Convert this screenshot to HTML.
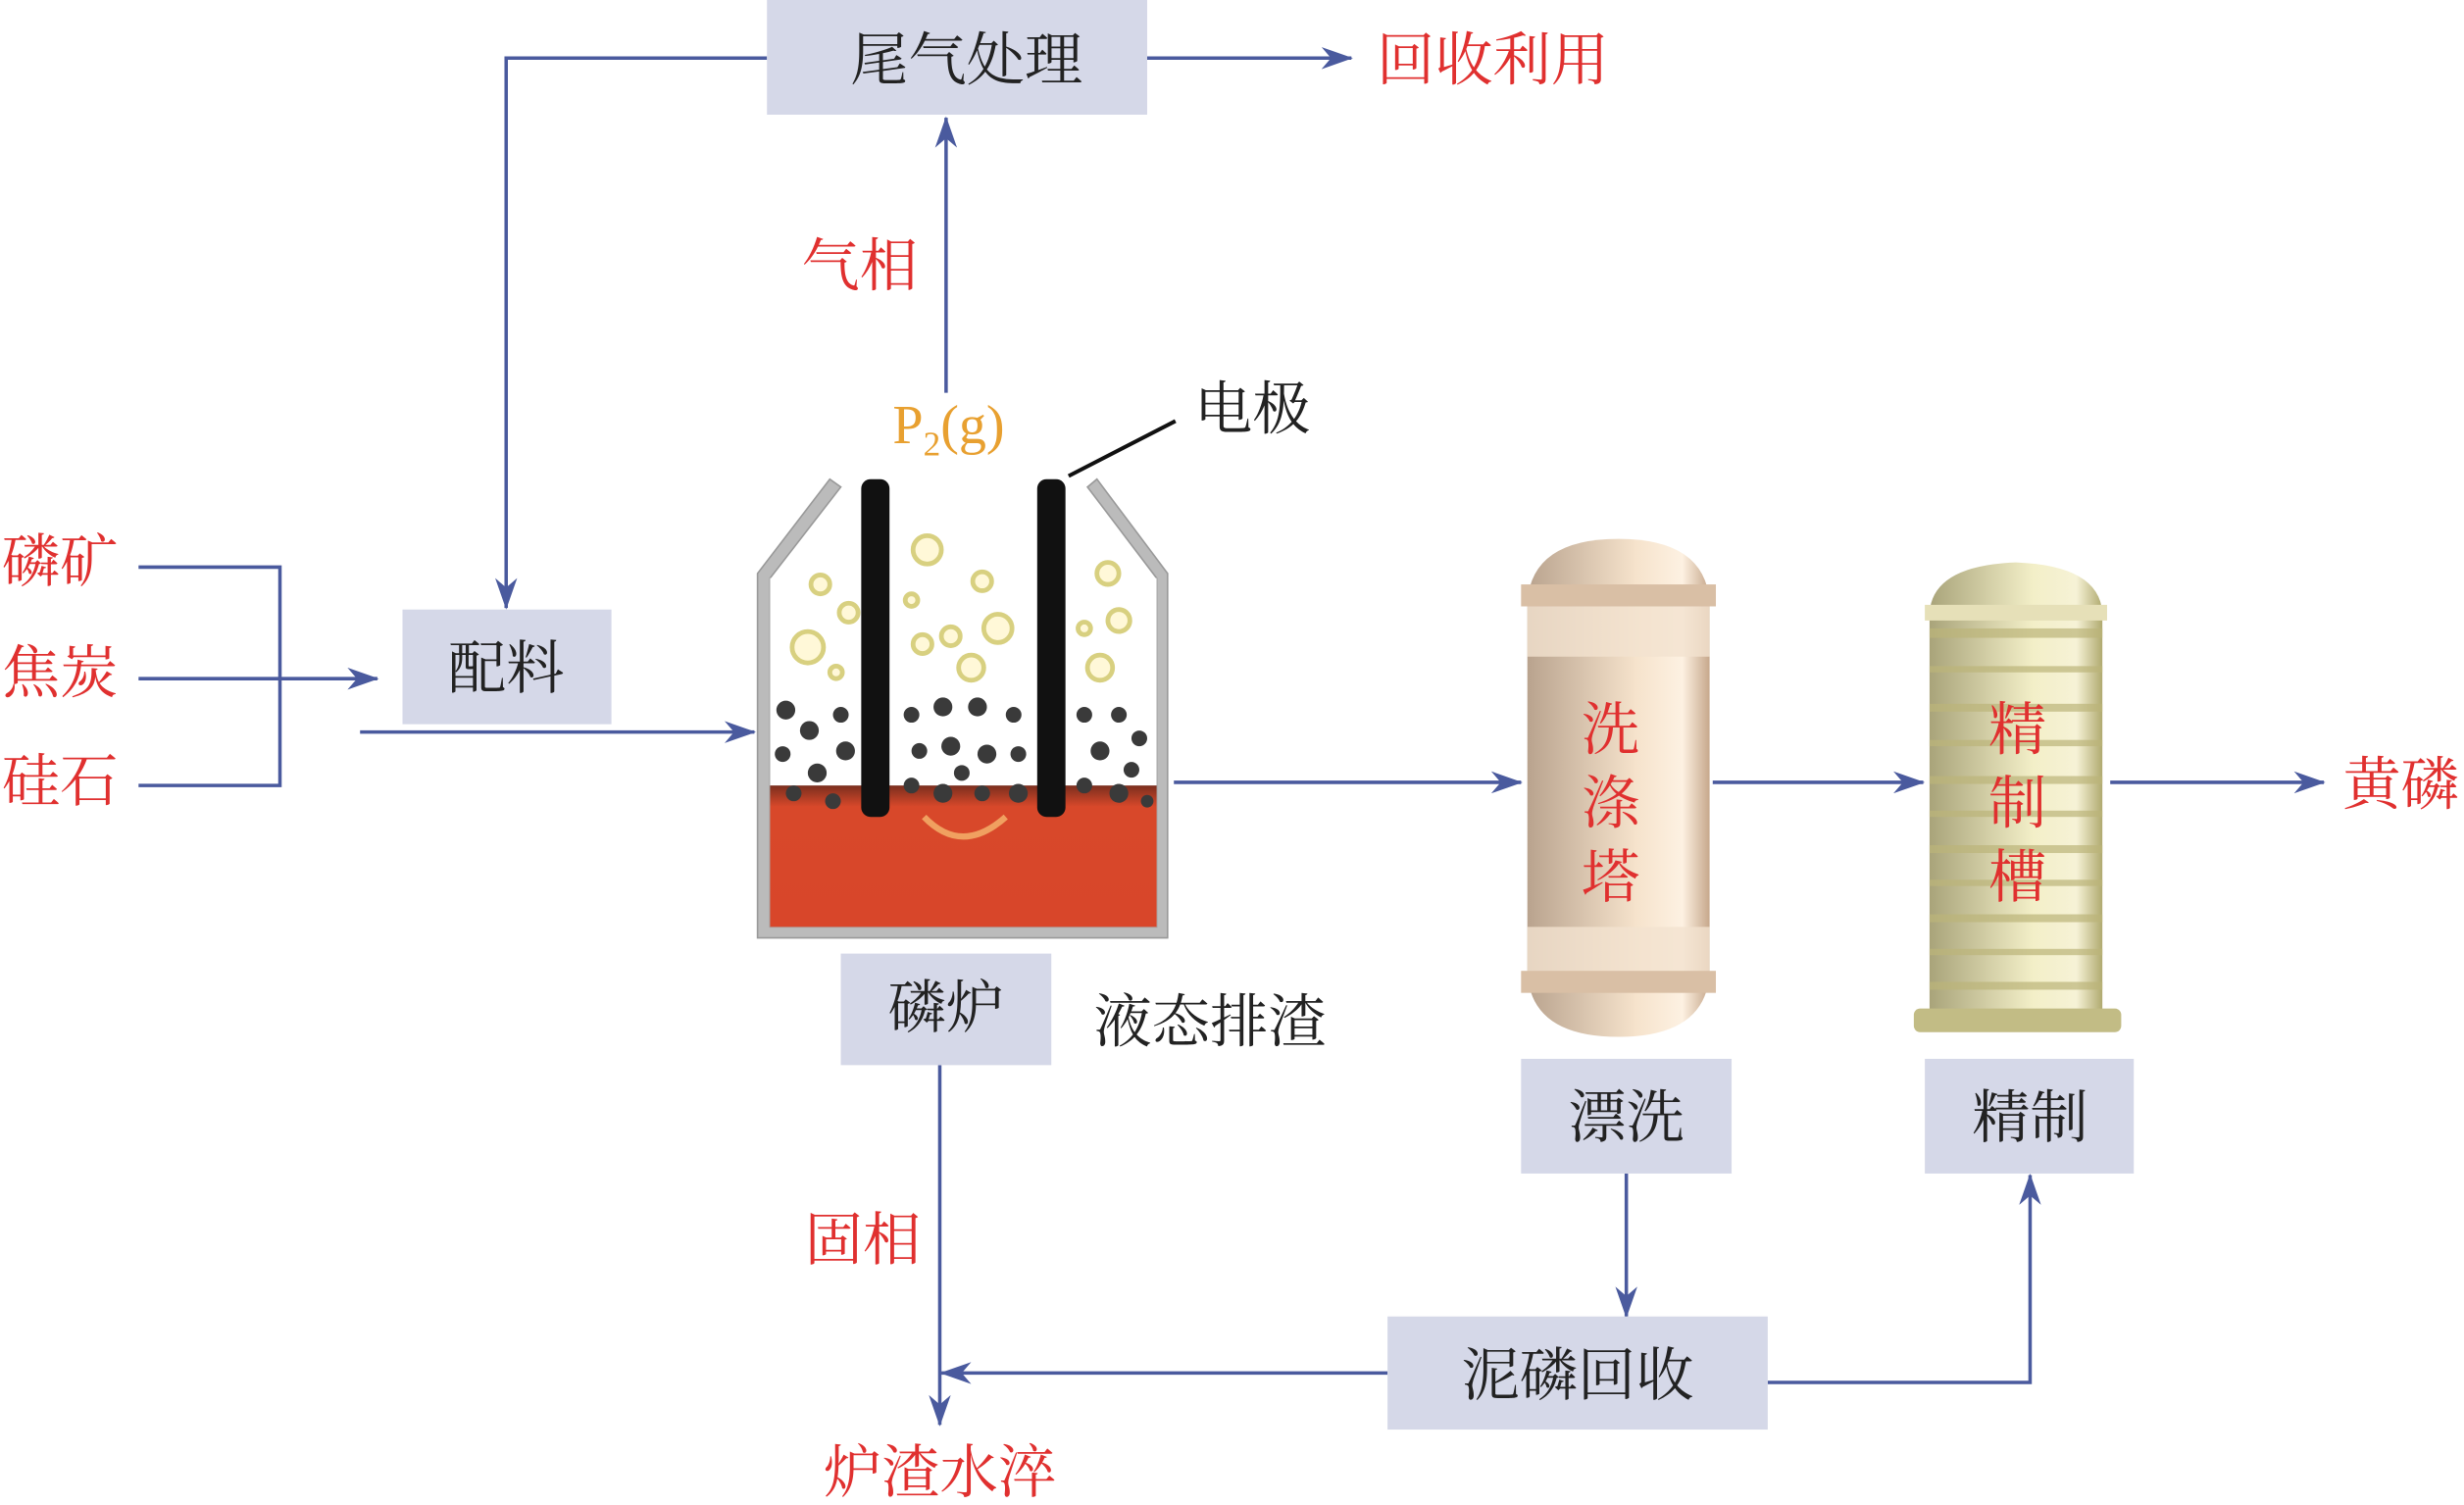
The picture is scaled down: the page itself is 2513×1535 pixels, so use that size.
<!DOCTYPE html>
<html><head><meta charset="utf-8"><style>
html,body{margin:0;padding:0;background:#fff;}
svg{display:block;}
text{font-family:"Liberation Serif","Noto Serif CJK SC",serif;}
</style></head><body>
<svg width="2513" height="1535" viewBox="0 0 1568 958" xmlns="http://www.w3.org/2000/svg">
<defs>
<marker id="a" markerWidth="20" markerHeight="14" refX="19" refY="7" orient="auto" markerUnits="userSpaceOnUse"><path d="M0,0 L20,7 L0,14 L6,7 Z" fill="#4a5a9e"/></marker>
<linearGradient id="tw" x1="0" x2="1"><stop offset="0" stop-color="#b9a38e"/><stop offset="0.6" stop-color="#f6e3cc"/><stop offset="0.85" stop-color="#fdf1e2"/><stop offset="1" stop-color="#c7a88c"/></linearGradient>
<linearGradient id="tk" x1="0" x2="1"><stop offset="0" stop-color="#a9a47a"/><stop offset="0.6" stop-color="#f3efc8"/><stop offset="0.85" stop-color="#f6f2d6"/><stop offset="1" stop-color="#b0aa70"/></linearGradient>
<linearGradient id="lq" x1="0" y1="0" x2="0" y2="1"><stop offset="0" stop-color="#7a2e1e"/><stop offset="0.15" stop-color="#d8482a"/><stop offset="1" stop-color="#d8462a"/></linearGradient>
</defs>
<g stroke="#4a5a9e" stroke-width="2.2" fill="none">
<line x1="730" y1="37" x2="860" y2="37" marker-end="url(#a)"/>
<polyline points="488,37 322,37 322,387" marker-end="url(#a)"/>
<polyline points="88,361 178,361 178,500 88,500"/>
<line x1="88" y1="432" x2="240" y2="432" marker-end="url(#a)"/>
<line x1="229" y1="466" x2="480" y2="466" marker-end="url(#a)"/>
<line x1="602" y1="250" x2="602" y2="75" marker-end="url(#a)"/>
<line x1="747" y1="498" x2="968" y2="498" marker-end="url(#a)"/>
<line x1="1090" y1="498" x2="1224" y2="498" marker-end="url(#a)"/>
<line x1="1343" y1="498" x2="1479" y2="498" marker-end="url(#a)"/>
<line x1="598" y1="678" x2="598" y2="907" marker-end="url(#a)"/>
<line x1="1035" y1="747" x2="1035" y2="838" marker-end="url(#a)"/>
<line x1="883" y1="874" x2="599" y2="874" marker-end="url(#a)"/>
<polyline points="1125,880 1292,880 1292,748" marker-end="url(#a)"/>
</g>
<g fill="#d5d8e8">
<rect x="488" y="0" width="242" height="73"/>
<rect x="256" y="388" width="133" height="73"/>
<rect x="535" y="607" width="134" height="71"/>
<rect x="968" y="674" width="134" height="73"/>
<rect x="1225" y="674" width="133" height="73"/>
<rect x="883" y="838" width="242" height="72"/>
</g>
<g font-size="37" text-anchor="middle" fill="#222">
<text x="615" y="51">尾气处理</text>
<text x="322" y="438">配料</text>
<text x="602" y="654">磷炉</text>
<text x="1035" y="724">漂洗</text>
<text x="1292" y="724">精制</text>
<text x="1004" y="888">泥磷回收</text>
<text x="770" y="663">液态排渣</text>
<text x="797" y="273">电极</text>
</g>
<g font-size="37" text-anchor="middle" fill="#e0302f">
<text x="950" y="51">回收利用</text>
<text x="547" y="182">气相</text>
<text x="38" y="370">磷矿</text>
<text x="38" y="441">焦炭</text>
<text x="38" y="510">硅石</text>
<text x="1528" y="512">黄磷</text>
<text x="549" y="802">固相</text>
<text x="598" y="950">炉渣水淬</text>
</g>
<text x="568" y="282" font-size="35" fill="#e8a030">P<tspan font-size="22" dy="8">2</tspan><tspan dy="-8">(g)</tspan></text>
<line x1="680" y1="303" x2="748" y2="268" stroke="#111" stroke-width="2.5"/>
<!-- furnace -->
<polygon points="482,597 482,365 528,305 535,310 490,368 490,590 736,590 736,368 692,310 698,305 743,365 743,597" fill="#bbb" stroke="#999" stroke-width="1"/>
<rect x="490" y="368" width="246" height="222" fill="#fff"/>
<rect x="490" y="500" width="246" height="90" fill="url(#lq)"/>
<g fill="#3a3a3a">
<circle cx="500" cy="452" r="6"/><circle cx="515" cy="465" r="6"/><circle cx="498" cy="480" r="5"/><circle cx="520" cy="492" r="6"/><circle cx="535" cy="455" r="5"/><circle cx="538" cy="478" r="6"/><circle cx="505" cy="505" r="5"/><circle cx="530" cy="510" r="5"/>
<circle cx="580" cy="455" r="5"/><circle cx="600" cy="450" r="6"/><circle cx="622" cy="450" r="6"/><circle cx="645" cy="455" r="5"/><circle cx="585" cy="478" r="5"/><circle cx="605" cy="475" r="6"/><circle cx="628" cy="480" r="6"/><circle cx="648" cy="480" r="5"/><circle cx="580" cy="500" r="5"/><circle cx="600" cy="505" r="6"/><circle cx="625" cy="505" r="5"/><circle cx="648" cy="505" r="6"/><circle cx="612" cy="492" r="5"/>
<circle cx="690" cy="455" r="5"/><circle cx="712" cy="455" r="5"/><circle cx="725" cy="470" r="5"/><circle cx="700" cy="478" r="6"/><circle cx="720" cy="490" r="5"/><circle cx="690" cy="500" r="5"/><circle cx="712" cy="505" r="6"/><circle cx="730" cy="510" r="4"/>
</g>
<rect x="548" y="305" width="18" height="215" rx="6" fill="#111"/>
<rect x="660" y="305" width="18" height="215" rx="6" fill="#111"/>
<g fill="#fff8d8" stroke="#d8d080" stroke-width="3">
<circle cx="514" cy="412" r="10"/><circle cx="540" cy="390" r="6"/><circle cx="522" cy="372" r="6"/><circle cx="532" cy="428" r="4"/>
<circle cx="590" cy="350" r="9"/><circle cx="605" cy="405" r="6"/><circle cx="587" cy="410" r="6"/><circle cx="580" cy="382" r="4"/><circle cx="618" cy="425" r="8"/><circle cx="635" cy="400" r="9"/><circle cx="625" cy="370" r="6"/>
<circle cx="705" cy="365" r="7"/><circle cx="712" cy="395" r="7"/><circle cx="700" cy="425" r="8"/><circle cx="690" cy="400" r="4"/>
</g>
<path d="M588,520 Q612,545 640,520" stroke="#f0a060" stroke-width="4" fill="none"/>
<!-- washing tower -->
<path d="M972,383 Q975,343 1030,343 Q1085,343 1088,383 L1088,620 Q1085,660 1030,660 Q975,660 972,620 Z" fill="url(#tw)"/>
<rect x="968" y="372" width="124" height="14" fill="#d9bfa5"/>
<rect x="972" y="386" width="116" height="32" fill="#f2e2d0" opacity="0.8"/>
<rect x="972" y="590" width="116" height="30" fill="#f2e2d0" opacity="0.8"/>
<rect x="968" y="618" width="124" height="14" fill="#d9bfa5"/>
<g font-size="37" text-anchor="middle" fill="#e0302f"><text x="1025" y="477">洗</text><text x="1025" y="524">涤</text><text x="1025" y="571">塔</text></g>
<!-- refining tank -->
<path d="M1228,390 Q1230,360 1283,358 Q1336,360 1338,390 L1338,648 L1228,648 Z" fill="url(#tk)"/>
<rect x="1225" y="385" width="116" height="10" fill="#e6e0b8"/>
<rect x="1218" y="642" width="132" height="15" rx="4" fill="#c2bc85"/>
<g fill="#bcb57a" opacity="0.7">
<rect x="1228" y="400" width="110" height="6"/><rect x="1228" y="424" width="110" height="4"/><rect x="1228" y="448" width="110" height="5"/><rect x="1228" y="471" width="110" height="4"/><rect x="1228" y="494" width="110" height="5"/><rect x="1228" y="516" width="110" height="4"/><rect x="1228" y="538" width="110" height="5"/><rect x="1228" y="560" width="110" height="4"/><rect x="1228" y="582" width="110" height="5"/><rect x="1228" y="604" width="110" height="4"/><rect x="1228" y="625" width="110" height="5"/>
</g>
<g font-size="37" text-anchor="middle" fill="#e0302f"><text x="1284" y="477">精</text><text x="1284" y="524">制</text><text x="1284" y="571">槽</text></g>
</svg>
</body></html>
